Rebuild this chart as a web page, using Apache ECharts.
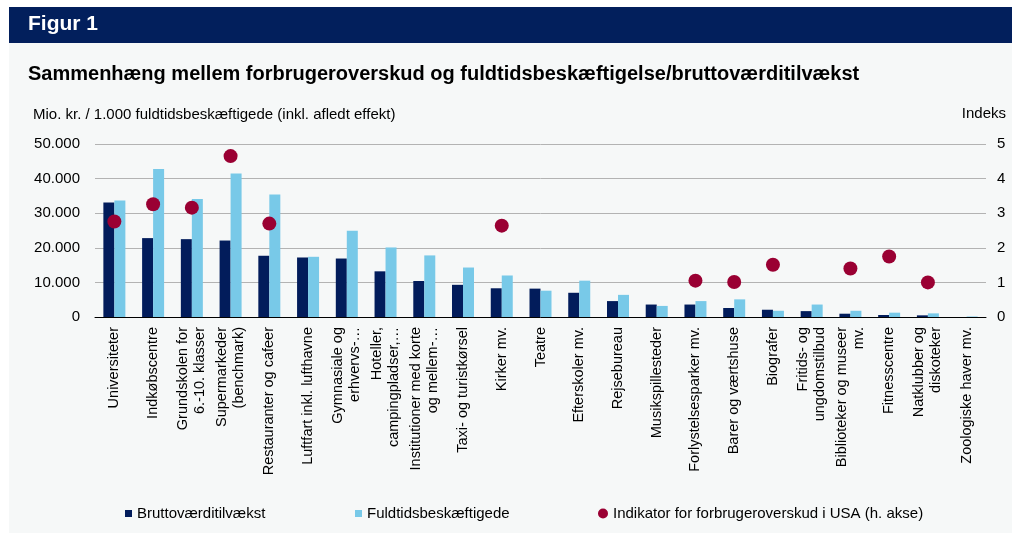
<!DOCTYPE html>
<html>
<head>
<meta charset="utf-8">
<script src="https://cdn.jsdelivr.net/npm/echarts@6/dist/echarts.min.js"></script>
<style>
  html, body { margin: 0; padding: 0; background: #ffffff; }
  #chart { width: 1017px; height: 537px; }
</style>
</head>
<body>
<div id="chart"></div>
<script>
// kategorier (x-akse)
const categories = [
  'Universiteter', 'Indkøbscentre', 'Grundskolen for\n6.-10. klasser', 'Supermarkeder\n(benchmark)',
  'Restauranter og cafeer', 'Luftfart inkl. lufthavne', 'Gymnasiale og\nerhvervs-…', 'Hoteller,\ncampingpladser,…',
  'Institutioner med korte\nog mellem-…', 'Taxi- og turistkørsel', 'Kirker mv.', 'Teatre',
  'Efterskoler mv.', 'Rejsebureau', 'Musikspillesteder', 'Forlystelsesparker mv.',
  'Barer og værtshuse', 'Biografer', 'Fritids- og\nungdomstilbud', 'Biblioteker og museer\nmv.',
  'Fitnesscentre', 'Natklubber og\ndiskoteker', 'Zoologiske haver mv.'
];

// Mio. kr. / 1.000 fuldtidsbeskæftigede
const bruttovaerdi = [
  33100, 22800, 22500, 22100, 17700, 17200, 16900, 13200,
  10400, 9300, 8300, 8200, 7000, 4600, 3600, 3600,
  2600, 2100, 1700, 950, 580, 480, 0
];
const fuldtid = [
  33700, 42800, 34100, 41500, 35400, 17400, 24900, 20100,
  17800, 14300, 12000, 7600, 10500, 6400, 3200, 4600,
  5100, 1800, 3600, 1800, 1250, 1050, 150
];

// Indeks (højre akse)
const indikator = [
  2.76, 3.26, 3.16, 4.65, 2.70, null, null, null,
  null, null, 2.64, null, null, null, null, 1.05,
  1.01, 1.51, null, 1.40, 1.75, 1.00, null
];

const leftTicks = [0, 10000, 20000, 30000, 40000, 50000];

const DARK = '#021c5b';
const LIGHT = '#78c9e8';
const RED = '#9a0033';
const FONT = '"Liberation Sans", Arial, sans-serif';

const chart = echarts.init(document.getElementById('chart'));

const fmtThousands = v => {
  if (v === 0) return '0';
  return String(v).replace(/\B(?=(\d{3})+(?!\d))/g, '.');
};

const option = {
  backgroundColor: '#ffffff',
  animation: false,
  textStyle: { fontFamily: FONT, color: '#000' },
  graphic: [
    { type: 'rect', shape: { x: 9, y: 7, width: 1003, height: 526 }, style: { fill: '#f6f8f8' }, z: -10 },
    { type: 'rect', shape: { x: 9, y: 7, width: 1003, height: 36 }, style: { fill: '#021f5c' }, z: -5 },
    { type: 'text', left: 28, top: 14, style: { text: 'Figur 1', fill: '#ffffff', font: 'bold 21px ' + FONT } },
    { type: 'text', left: 28, top: 64, style: { text: 'Sammenhæng mellem forbrugeroverskud og fuldtidsbeskæftigelse/bruttoværditilvækst', fill: '#000', font: 'bold 20px ' + FONT } },
    { type: 'text', left: 33, top: 107, style: { text: 'Mio. kr. / 1.000 fuldtidsbeskæftigede (inkl. afledt effekt)', fill: '#000', font: '15px ' + FONT } },
    { type: 'text', right: 11, top: 106, style: { text: 'Indeks', fill: '#000', font: '15px ' + FONT, align: 'right' } }
  ],
  legend: [
    {
      left: 120, top: 501, itemWidth: 7, itemHeight: 7, icon: 'rect',
      data: ['Bruttoværditilvækst'],
      textStyle: { fontSize: 15, fontFamily: FONT, color: '#000' }
    },
    {
      left: 350, top: 501, itemWidth: 7, itemHeight: 7, icon: 'rect',
      data: ['Fuldtidsbeskæftigede'],
      textStyle: { fontSize: 15, fontFamily: FONT, color: '#000' }
    },
    {
      left: 593, top: 501, itemWidth: 10, itemHeight: 10, icon: 'circle',
      data: ['Indikator for forbrugeroverskud i USA (h. akse)'],
      textStyle: { fontSize: 15, fontFamily: FONT, color: '#000' }
    }
  ],
  grid: { left: 95, right: 31, top: 144, bottom: 220, containLabel: false },
  xAxis: {
    type: 'category',
    data: categories,
    axisLine: { lineStyle: { color: '#000', width: 1 } },
    axisTick: { length: 5, lineStyle: { color: '#000' } },
    axisLabel: {
      rotate: 90, interval: 0, margin: 10,
      fontSize: 14.5, fontFamily: FONT, color: '#000', lineHeight: 17
    }
  },
  yAxis: [
    {
      type: 'value', min: 0, max: 50000, interval: 10000,
      axisLine: { show: false }, axisTick: { show: false },
      splitLine: { lineStyle: { color: '#b3b3b3', width: 1 } },
      axisLabel: {
        margin: 15, fontSize: 15, fontFamily: FONT, color: '#000',
        formatter: v => leftTicks.includes(v) ? fmtThousands(v) : ''
      }
    },
    {
      type: 'value', min: 0, max: 5, interval: 1,
      axisLine: { show: false }, axisTick: { show: false },
      splitLine: { show: false },
      axisLabel: { margin: 11, fontSize: 15, fontFamily: FONT, color: '#000' }
    }
  ],
  series: [
    {
      name: 'Bruttoværditilvækst', type: 'bar', data: bruttovaerdi,
      barWidth: 11, barGap: '0%', itemStyle: { color: DARK }
    },
    {
      name: 'Fuldtidsbeskæftigede', type: 'bar', data: fuldtid,
      barWidth: 11, barGap: '0%', itemStyle: { color: LIGHT }
    },
    {
      name: 'Indikator for forbrugeroverskud i USA (h. akse)', type: 'scatter',
      yAxisIndex: 1, data: indikator, symbolSize: 14,
      itemStyle: { color: RED, opacity: 1 }, z: 5
    }
  ]
};

chart.setOption(option);
</script>
</body>
</html>
